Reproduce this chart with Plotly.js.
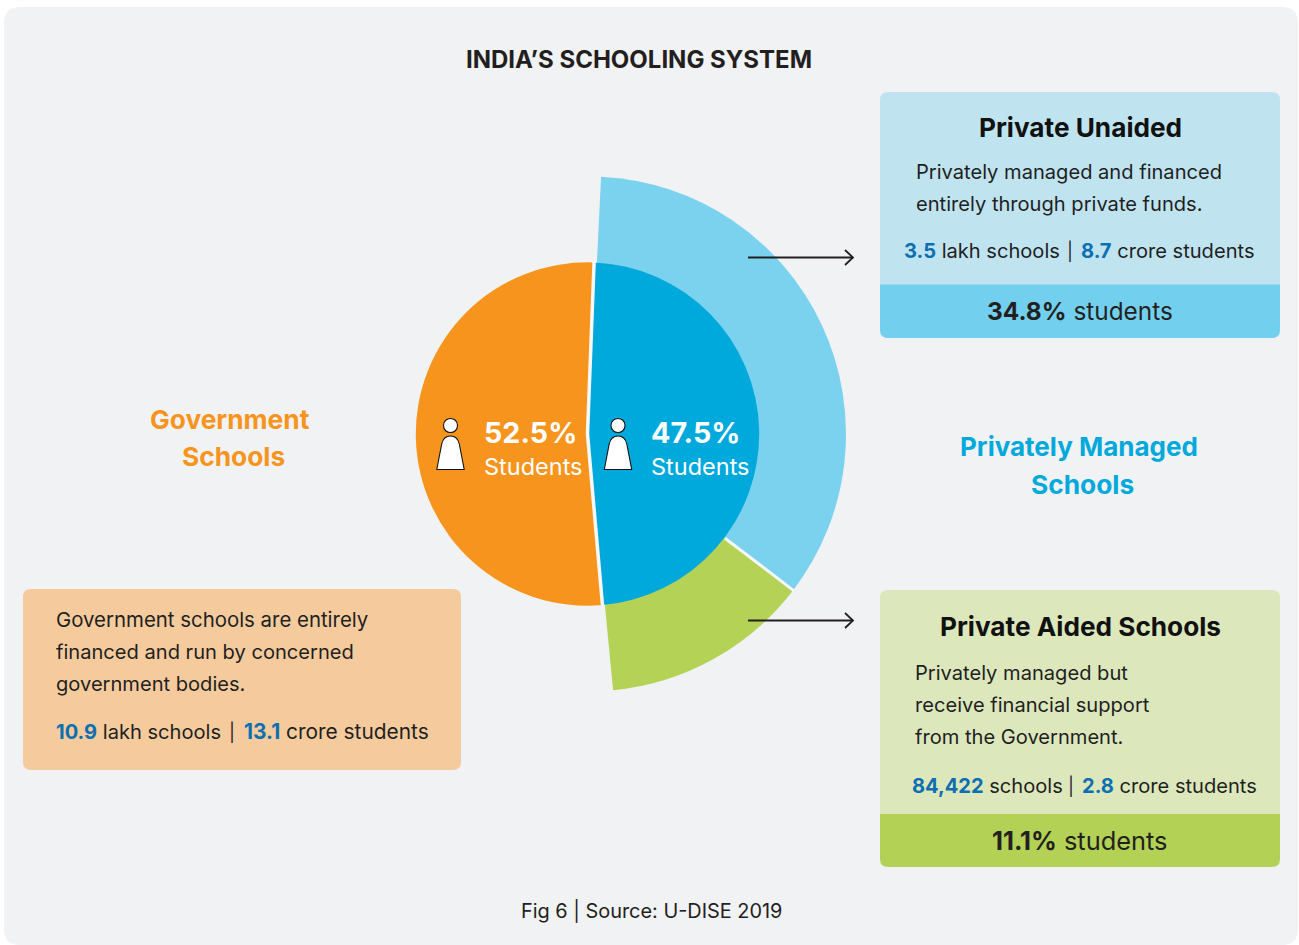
<!DOCTYPE html>
<html><head><meta charset="utf-8">
<script src="https://cdn.plot.ly/plotly-3.0.1.min.js"></script>
<style>html,body{margin:0;padding:0;background:#fff}#c{width:1299px;height:945px}</style></head>
<body><div id="c"></div>
<script>
// ---- data ----
var innerLabels = ['Privately Managed Schools', 'Government Schools'];
var innerStudents = [47.5, 52.5];            // printed share of students
var innerDrawnShare = [48.0, 52.0];          // share of the circle the wedges really span
var outerLabels = ['Private Unaided', 'Private Aided Schools', ''];
var outerStudents = [34.8, 11.1];            // printed share of students
var outerDrawnShare = [34.6, 13.1, 52.3];    // share of the circle the arcs really span
var govStats = ['10.9', '13.1'];
var unaidedStats = ['3.5', '8.7'];
var aidedStats = ['84,422', '2.8'];
var title = 'INDIA’S SCHOOLING SYSTEM';
var source = 'Fig 6 | Source: U-DISE 2019';

var W = 1299, H = 945, F = 'Inter, "Liberation Sans", sans-serif';
var cy = 434, cxIn = 587.5, cxOut = 588.5, rIn = 171.7, rOut = 257.5;
var rotIn = 2.2, rotOut = 2.8;
var X = function (x) { return x / W; }, Y = function (y) { return 1 - y / H; };

function box(x0, y0, x1, y1, rt, rb) {
  return 'M' + X(x0 + rt) + ',' + Y(y0) + 'L' + X(x1 - rt) + ',' + Y(y0) + 'Q' + X(x1) + ',' + Y(y0) + ' ' + X(x1) + ',' + Y(y0 + rt) +
    'L' + X(x1) + ',' + Y(y1 - rb) + 'Q' + X(x1) + ',' + Y(y1) + ' ' + X(x1 - rb) + ',' + Y(y1) +
    'L' + X(x0 + rb) + ',' + Y(y1) + 'Q' + X(x0) + ',' + Y(y1) + ' ' + X(x0) + ',' + Y(y1 - rb) +
    'L' + X(x0) + ',' + Y(y0 + rt) + 'Q' + X(x0) + ',' + Y(y0) + ' ' + X(x0 + rt) + ',' + Y(y0) + 'Z';
}
var shapes = [];
function fill(path, color) {
  shapes.push({ type: 'path', xref: 'paper', yref: 'paper', layer: 'below', path: path, fillcolor: color, line: { width: 0 } });
}
function stroke(path, color, w, layerFill) {
  shapes.push({ type: 'path', xref: 'paper', yref: 'paper', layer: 'above', path: path, fillcolor: layerFill || 'rgba(0,0,0,0)', line: { color: color, width: w } });
}
fill(box(4, 7, 1298, 945, 16, 16), '#f1f2f4');
fill(box(880, 92, 1280, 290, 8, 0), '#bfe4f0');
fill(box(880, 284.5, 1280, 338, 0, 8), '#72cfed');
fill(box(880, 590, 1280, 820, 8, 0), '#dce7bc');
fill(box(880, 814, 1280, 867, 0, 8), '#b3d155');
fill(box(23, 589, 461, 770, 8, 8), '#f5cb9d');

// separators, placed from the drawn shares
function polar(cx, r, deg) {
  var a = deg * Math.PI / 180;
  return [cx + r * Math.sin(a), cy - r * Math.cos(a)];
}
function seg(cx, r0, r1, deg, w) {
  var p = polar(cx, r0, deg), q = polar(cx, r1, deg);
  stroke('M' + X(p[0]) + ',' + Y(p[1]) + 'L' + X(q[0]) + ',' + Y(q[1]), '#f6f7f8', w);
}
seg(cxIn, 0, rIn + 1, rotIn, 3.5);
seg(cxIn, 0, rIn + 1, rotIn + innerDrawnShare[0] * 3.6, 3.5);
seg(cxOut, rIn, rOut + 1, rotOut + outerDrawnShare[0] * 3.6, 3);

// arrows
[257.5, 620.5].forEach(function (y) {
  stroke('M' + X(748) + ',' + Y(y) + 'L' + X(853) + ',' + Y(y), '#231f20', 1.8);
  stroke('M' + X(845) + ',' + Y(y - 7.5) + 'L' + X(853) + ',' + Y(y) + 'L' + X(845) + ',' + Y(y + 7.5), '#231f20', 1.8);
});

// person icons
[450.5, 618].forEach(function (px) {
  var hr = 7, hy = 425.5;
  stroke('M' + X(px - hr) + ',' + Y(hy) + 'C' + X(px - hr) + ',' + Y(hy - 9.3) + ' ' + X(px + hr) + ',' + Y(hy - 9.3) + ' ' + X(px + hr) + ',' + Y(hy) +
    'C' + X(px + hr) + ',' + Y(hy + 9.3) + ' ' + X(px - hr) + ',' + Y(hy + 9.3) + ' ' + X(px - hr) + ',' + Y(hy) + 'Z', '#111', 1.1, '#fff');
  stroke('M' + X(px - 13.7) + ',' + Y(469.5) + 'L' + X(px - 8.8) + ',' + Y(444) + 'Q' + X(px - 7) + ',' + Y(436) + ' ' + X(px) + ',' + Y(436) +
    'Q' + X(px + 7) + ',' + Y(436) + ' ' + X(px + 8.8) + ',' + Y(444) + 'L' + X(px + 13.7) + ',' + Y(469.5) + 'Z', '#111', 1.1, '#fff');
});

// text
var ann = [];
function t(text, x, y, size, anchor, color) {
  ann.push({ text: text, xref: 'paper', yref: 'paper', x: X(x), y: Y(y - 0.2), xanchor: anchor || 'left', yanchor: 'middle',
    showarrow: false, align: anchor || 'left', borderpad: 0, font: { family: F, size: size, color: color || '#1f1f1f' } });
}
var num = function (s) { return '<span style="color:#0b6fb1"><b>' + s + '</b></span>'; };
function stats(a, unitA, b, x, pipeX, secondX, y, size2) {
  t(num(a) + ' ' + unitA, x, y, 20.1);
  t('|', pipeX, y, 18, 'center');
  t(num(b) + ' crore students', secondX, y, size2 || 20.1);
}
t('<b>' + title + '</b>', 639, 59.7, 24, 'center', '#231f20');
t('<b>' + outerLabels[0] + '</b>', 1080, 128, 26.2, 'center', '#111');
t('Privately managed and financed', 915, 172, 20.1);
t('entirely through private funds.', 915, 204, 20.1);
stats(unaidedStats[0], 'lakh schools', unaidedStats[1], 903, 1070, 1080, 251);
t('<b>' + outerStudents[0] + '%</b> students', 1080, 311, 24.4, 'center', '#231f20');
t('<b>Privately Managed</b>', 1079, 447, 26, 'center', '#00a9dc');
t('<b>Schools</b>', 1082, 485, 26.3, 'center', '#00a9dc');
t('<b>Private Aided Schools</b>', 1080, 627, 26.2, 'center', '#111');
t('Privately managed but', 914, 673, 20.1);
t('receive financial support', 914, 705, 20.1);
t('from the Government.', 914, 737, 20.1);
stats(aidedStats[0], 'schools', aidedStats[1], 911, 1071, 1081, 786);
t('<b>' + outerStudents[1] + '%</b> students', 1080, 841, 25.4, 'center', '#231f20');
t('<b>Government</b>', 230, 420, 26.3, 'center', '#f7941d');
t('<b>Schools</b>', 233.5, 457, 26.3, 'center', '#f7941d');
t('Government schools are entirely', 55, 620, 20.4);
t('financed and run by concerned', 55, 652, 20.1);
t('government bodies.', 55, 684, 20.1);
stats(govStats[0], 'lakh schools', govStats[1], 55, 232, 243, 732, 20.9);
t('<b>' + innerStudents[1] + '%</b>', 483, 433, 28.7, 'left', '#fff');
t('Students', 483, 467, 23.5, 'left', '#fff');
t('<b>' + innerStudents[0] + '%</b>', 650.5, 433, 28.7, 'left', '#fff');
t('Students', 650.5, 467, 23.5, 'left', '#fff');
t(source, 651.5, 911, 19.9, 'center', '#231f20');

function dom(cx, r) {
  return { x: [X(cx - r), X(cx + r)], y: [Y(cy + r), Y(cy - r)] };
}
var base = { type: 'pie', sort: false, direction: 'clockwise', textinfo: 'none', hoverinfo: 'skip', showlegend: false };
var traces = [
  Object.assign({}, base, { labels: outerLabels, values: outerDrawnShare, rotation: rotOut, domain: dom(cxOut, rOut),
    marker: { colors: ['#7ad2ef', '#b4d255', 'rgba(0,0,0,0)'], line: { width: 0 } } }),
  Object.assign({}, base, { labels: innerLabels, values: innerDrawnShare, rotation: rotIn, domain: dom(cxIn, rIn),
    marker: { colors: ['#00a9dc', '#f7941d'], line: { width: 0 } } })
];
Plotly.newPlot('c', traces, {
  width: W, height: H, margin: { l: 0, r: 0, t: 0, b: 0, pad: 0 }, paper_bgcolor: '#fff', plot_bgcolor: 'rgba(0,0,0,0)',
  font: { family: F }, shapes: shapes, annotations: ann
}, { staticPlot: true, displayModeBar: false });
</script></body></html>
